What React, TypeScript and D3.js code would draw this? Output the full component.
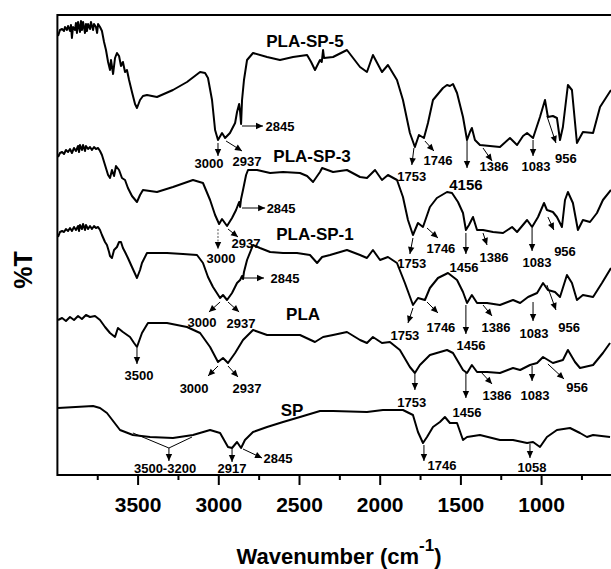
import React from "react";
import * as d3 from "d3";

const W = 611, H = 569;
const majorTicks = [3500, 3000, 2500, 2000, 1500, 1000];
const minorTicks = [3750, 3250, 2750, 2250, 1750, 1250, 750];
const xTitle = "Wavenumber (cm";
const yTitle = "%T";

type P = [number, number];

const plaSp5: P[] = [
  [3996,439],[3984,445],[3971,446],[3959,444],[3953,448],[3941,445],[3934,449],[3922,444],[3916,450],[3910,437],
  [3903,448],[3891,445],[3885,452],[3879,442],[3872,453],[3860,443],[3854,454],[3848,445],[3841,453],[3829,442],
  [3823,451],[3817,444],[3810,451],[3798,446],[3792,453],[3779,445],[3773,451],[3761,448],[3754,442],[3748,451],
  [3736,448],[3724,444],[3711,433],[3699,425],[3686,413],[3674,405],[3668,415],
  [3655,401],[3643,417],[3631,422],[3618,419],[3606,409],[3594,413],[3581,403],[3569,405],[3556,395],[3538,383],
  [3519,371],[3507,367],[3488,375],[3470,379],[3445,380],[3383,378],[3284,385],[3197,393],[3116,403],[3085,402],
  [3067,397],[3042,375],[3023,345],[3005,335],[2980,342],[2961,337],[2931,342],[2899,352],[2887,363],[2874,371],
  [2868,363],[2862,351],[2856,375],[2844,395],[2825,415],[2788,422],[2701,418],[2621,415],[2540,418],[2453,420],
  [2428,413],[2404,405],[2373,415],[2362,413],[2354,425],[2348,417],[2292,418],[2206,425],[2125,408],[2082,403],
  [2045,420],[1989,403],[1952,410],[1896,395],[1859,375],[1816,342],[1785,328],[1760,340],[1729,337],[1704,352],
  [1673,375],[1611,387],[1586,390],[1568,389],[1549,391],[1524,382],[1487,358],[1462,335],[1444,343],[1432,347],
  [1413,335],[1382,330],[1258,328],[1196,337],[1152,330],[1115,339],[1090,342],[1053,337],[1010,358],[979,375],
  [961,358],[930,359],[905,357],[886,335],[868,348],[837,390],[812,385],[781,332],[744,343],[681,342],[638,368],[570,385],
];

const plaSp3: P[] = [
  [3996,318],[3984,322],[3971,323],[3959,321],[3947,325],[3934,323],[3922,326],[3910,322],[3897,327],[3885,324],
  [3872,329],[3866,323],[3860,330],[3848,325],[3841,330],[3829,324],[3823,329],[3810,326],[3798,328],[3786,325],
  [3773,328],[3761,326],[3748,327],[3736,324],[3724,320],
  [3705,310],[3686,300],[3674,297],[3662,305],[3649,299],[3637,309],[3618,305],[3600,297],[3581,295],[3563,287],
  [3538,279],[3507,273],[3488,280],[3470,285],[3383,283],[3284,288],[3160,295],[3098,292],[3054,275],[3023,260],
  [2998,251],[2980,256],[2949,249],[2918,257],[2893,265],[2874,273],[2868,268],[2862,276],[2850,285],[2831,300],
  [2819,305],[2763,305],[2682,302],[2602,303],[2497,302],[2453,299],[2416,293],[2373,303],[2360,307],[2292,303],
  [2206,305],[2125,298],[2082,297],[2032,305],[1989,295],[1952,300],[1896,295],[1859,278],[1828,255],[1797,240],
  [1766,252],[1735,248],[1692,268],[1649,277],[1586,283],[1555,282],[1518,273],[1487,262],[1469,245],[1450,250],
  [1425,258],[1400,245],[1363,245],[1301,243],[1239,242],[1183,248],[1152,243],[1090,255],[1059,248],[1022,258],
  [985,272],[967,265],[930,263],[905,258],[874,248],[855,275],[837,283],[806,272],[775,245],[744,255],[700,253],
  [657,262],[620,275],[570,285],
];

const plaSp1: P[] = [
  [3996,238],[3984,243],[3971,244],[3959,243],[3947,246],[3934,244],[3922,247],[3910,244],[3897,248],[3885,245],
  [3872,249],[3866,244],[3860,250],[3848,246],[3841,251],[3829,245],[3823,250],[3810,246],[3798,249],[3786,246],
  [3773,249],[3761,247],[3748,248],[3736,245],[3724,240],
  [3705,233],[3693,230],[3680,223],[3674,219],
  [3662,217],[3649,225],[3631,228],[3618,233],[3606,233],[3594,227],[3581,223],[3563,217],[3538,208],[3507,197],
  [3488,205],[3476,212],[3445,222],[3321,222],[3222,221],[3135,220],[3098,212],[3067,198],[3036,188],[2992,177],
  [2974,180],[2949,175],[2918,182],[2887,192],[2868,195],[2856,199],[2850,196],[2844,203],[2825,215],[2788,230],
  [2745,227],[2682,223],[2602,222],[2516,222],[2435,220],[2391,212],[2360,218],[2311,220],[2206,225],[2125,220],
  [2082,217],[2045,225],[2001,215],[1952,218],[1896,212],[1847,192],[1797,170],[1766,177],[1723,175],[1692,187],
  [1642,197],[1580,202],[1524,195],[1487,183],[1462,172],[1432,180],[1400,172],[1338,172],[1258,170],[1177,175],
  [1133,172],[1084,178],[1028,182],[991,192],[961,185],[917,183],[886,178],[843,200],[812,192],[781,175],
  [744,180],[681,178],[626,192],[570,207],
];

const pla: P[] = [
  [3996,155],[3971,157],[3947,154],[3922,158],[3897,155],[3872,159],[3848,156],[3823,160],[3798,158],[3767,159],
  [3736,155],[3705,148],[3674,142],[3643,138],[3625,147],[3594,143],[3550,138],[3525,132],[3507,128],[3476,142],
  [3439,152],[3321,152],[3197,148],[3116,142],[3054,128],[3005,113],[2974,117],[2943,112],[2899,122],[2850,135],
  [2788,145],[2701,140],[2602,140],[2497,140],[2404,133],[2354,138],[2292,140],[2206,143],[2125,135],[2082,132],
  [2045,138],[1989,132],[1940,133],[1878,125],[1816,108],[1785,102],[1754,110],[1692,120],[1586,125],[1549,122],
  [1487,105],[1462,102],[1432,110],[1400,103],[1338,103],[1258,102],[1177,107],[1133,105],[1072,110],[1028,112],
  [991,118],[930,112],[868,115],[837,125],[793,113],[762,107],[681,110],[620,122],[576,132],
];

const sp: P[] = [
  [3996,67],[3779,69],[3736,67],[3693,62],[3612,45],[3532,40],[3426,38],[3284,37],[3160,40],[3054,45],
  [2992,42],[2943,28],[2918,27],[2887,33],[2862,27],[2838,35],[2788,43],[2701,48],[2602,53],[2497,58],
  [2373,64],[2292,64],[2082,63],[1983,65],[1859,65],[1797,60],[1766,43],[1735,32],[1710,38],[1673,48],
  [1630,53],[1599,58],[1568,52],[1524,52],[1487,35],[1462,38],[1382,40],[1258,35],[1177,35],[1090,32],
  [1053,33],[1010,28],[967,38],[905,45],[824,47],[762,42],[719,38],[681,40],[576,38],
];

const seriesNames = ["PLA-SP-5", "PLA-SP-3", "PLA-SP-1", "PLA", "SP"];
const seriesData = [plaSp5, plaSp3, plaSp1, pla, sp];
const seriesLabelPos: P[] = [[2466,428],[2422,313],[2404,235],[2478,155],[2546,59]];

type Ann = { t: string; at: P; from: P; to: P; dashed?: boolean; big?: boolean; extra?: [P, P][] };

const annSp5: Ann[] = [
  { t: "3000", at: [3061,307], from: [3005,332], to: [3005,319] },
  { t: "2937", at: [2825,309], from: [2955,334], to: [2856,324] },
  { t: "2845", at: [2621,344], from: [2856,349], to: [2726,349] },
  { t: "1753", at: [1804,294], from: [1791,327], to: [1804,310] },
  { t: "1746", at: [1642,310], from: [1723,334], to: [1667,324] },
  { t: "4156", at: [1469,285], from: [1462,334], to: [1462,307], big: true },
  { t: "1386", at: [1295,304], from: [1363,327], to: [1307,314] },
  { t: "1083", at: [1035,304], from: [1053,335], to: [1053,319] },
  { t: "956", at: [849,312], from: [967,359], to: [911,332] },
];
const annSp3: Ann[] = [
  { t: "2845", at: [2614,262], from: [2856,267], to: [2713,267] },
  { t: "2937", at: [2831,227], from: [2943,246], to: [2881,238] },
  { t: "3000", at: [2986,212], from: [3005,246], to: [3005,226], dashed: true },
  { t: "1753", at: [1804,207], from: [1797,237], to: [1816,221] },
  { t: "1746", at: [1624,222], from: [1710,247], to: [1642,237] },
  { t: "1456", at: [1481,203], from: [1469,242], to: [1469,221] },
  { t: "1386", at: [1295,213], from: [1363,242], to: [1338,230] },
  { t: "1083", at: [1028,208], from: [1059,247], to: [1059,224] },
  { t: "956", at: [855,219], from: [961,258], to: [924,245] },
];
const annSp1: Ann[] = [
  { t: "2845", at: [2590,192], from: [2850,197], to: [2720,197] },
  { t: "3000", at: [3104,148], from: [2992,173], to: [3061,163] },
  { t: "2937", at: [2862,147], from: [2943,173], to: [2874,163] },
  { t: "1753", at: [1847,135], from: [1797,167], to: [1828,152] },
  { t: "1746", at: [1624,143], from: [1710,173], to: [1642,162] },
  { t: "1456", at: [1438,125], from: [1469,170], to: [1469,141] },
  { t: "1386", at: [1283,143], from: [1363,170], to: [1307,159] },
  { t: "1083", at: [1047,137], from: [1053,173], to: [1053,154] },
  { t: "956", at: [830,143], from: [967,190], to: [911,165] },
];
const annPla: Ann[] = [
  { t: "3500", at: [3494,95], from: [3507,127], to: [3507,111] },
  { t: "3000", at: [3153,82], from: [3005,109], to: [3067,99] },
  { t: "2937", at: [2825,82], from: [2943,109], to: [2881,98] },
  { t: "1753", at: [1804,68], from: [1785,101], to: [1785,85] },
  { t: "1456", at: [1462,58], from: [1469,102], to: [1469,77] },
  { t: "1386", at: [1276,75], from: [1370,102], to: [1307,91] },
  { t: "1083", at: [1041,75], from: [1059,109], to: [1059,94] },
  { t: "956", at: [780,83], from: [961,111], to: [861,96] },
];
const annSp: Ann[] = [
  { t: "3500-3200", at: [3333,2], from: [3309,27], to: [3309,14], extra: [[[3532,42],[3309,27]], [[3166,38],[3309,27]]] },
  { t: "2917", at: [2918,2], from: [2918,26], to: [2918,13] },
  { t: "2845", at: [2633,12], from: [2850,26], to: [2732,17] },
  { t: "1746", at: [1617,5], from: [1729,30], to: [1729,14] },
  { t: "1058", at: [1059,3], from: [1072,31], to: [1072,17] },
];
const annotations = [annSp5, annSp3, annSp1, annPla, annSp];

const FONT = "'Liberation Sans', Arial, Helvetica, sans-serif";

function head(x1: number, y1: number, x2: number, y2: number, size = 7, w = 3.2) {
  const dx = x2 - x1, dy = y2 - y1;
  const L = Math.hypot(dx, dy) || 1;
  const ux = dx / L, uy = dy / L;
  const bx = x2 - ux * size, by = y2 - uy * size;
  return `M${x2},${y2}L${bx - uy * w},${by + ux * w}L${bx + uy * w},${by - ux * w}Z`;
}

export default function App() {
  const x = d3.scaleLinear().domain([4000, 570]).range([57.4, 611]);
  const y = d3.scaleLinear().domain([0, 460]).range([475, 15]);
  const line = d3.line<P>().x((d) => x(d[0])).y((d) => y(d[1]));
  const left = x(4000), bottom = y(0), top = y(460);

  return (
    <svg width={W} height={H} style={{ position: "absolute", left: 0, top: 0, background: "#fff" }} fontFamily={FONT}>
      <rect x={0} y={0} width={W} height={H} fill="#fff" />
      <path d={`M${W},${top}H${left}V${bottom}H${W}`} fill="none" stroke="#000" strokeWidth={2} />
      {majorTicks.map((t) => (
        <g key={"M" + t}>
          <line x1={x(t)} x2={x(t)} y1={bottom} y2={bottom + 10} stroke="#000" strokeWidth={2} />
          <text x={x(t)} y={512} textAnchor="middle" fontSize={21} fontWeight="bold">{t}</text>
        </g>
      ))}
      {minorTicks.map((t) => (
        <line key={"m" + t} x1={x(t)} x2={x(t)} y1={bottom} y2={bottom + 5} stroke="#000" strokeWidth={2} />
      ))}
      <text x={339} y={564} textAnchor="middle" fontSize={22} fontWeight="bold">
        {xTitle}
        <tspan fontSize={17} dy={-13}>-1</tspan>
        <tspan dy={13}>)</tspan>
      </text>
      <text transform={`translate(32,270) rotate(-90)`} textAnchor="middle" fontSize={25} fontWeight="bold">{yTitle}</text>

      {seriesData.map((s, i) => (
        <path key={i} d={line(s) || ""} fill="none" stroke="#000" strokeWidth={2} strokeLinejoin="round" />
      ))}
      {seriesNames.map((n, i) => (
        <text key={n} x={x(seriesLabelPos[i][0])} y={y(seriesLabelPos[i][1])} textAnchor="middle" fontSize={17} fontWeight="bold">{n}</text>
      ))}
      {annotations.map((group, gi) =>
        group.map((a, ai) => {
          const x1 = x(a.from[0]), y1 = y(a.from[1]), x2 = x(a.to[0]), y2 = y(a.to[1]);
          return (
            <g key={gi + "-" + ai}>
              {a.extra && a.extra.map((e, k) => (
                <line key={k} x1={x(e[0][0])} y1={y(e[0][1])} x2={x(e[1][0])} y2={y(e[1][1])} stroke="#000" strokeWidth={1} />
              ))}
              <line x1={x1} y1={y1} x2={x2} y2={y2} stroke={a.dashed ? "#555" : "#000"} strokeWidth={1} strokeDasharray={a.dashed ? "2,1.5" : undefined} />
              <path d={head(x1, y1, x2, y2)} fill="#000" />
              <text x={x(a.at[0])} y={y(a.at[1])} textAnchor="middle" fontSize={a.big ? 15 : 13} fontWeight="bold">{a.t}</text>
            </g>
          );
        })
      )}
    </svg>
  );
}
